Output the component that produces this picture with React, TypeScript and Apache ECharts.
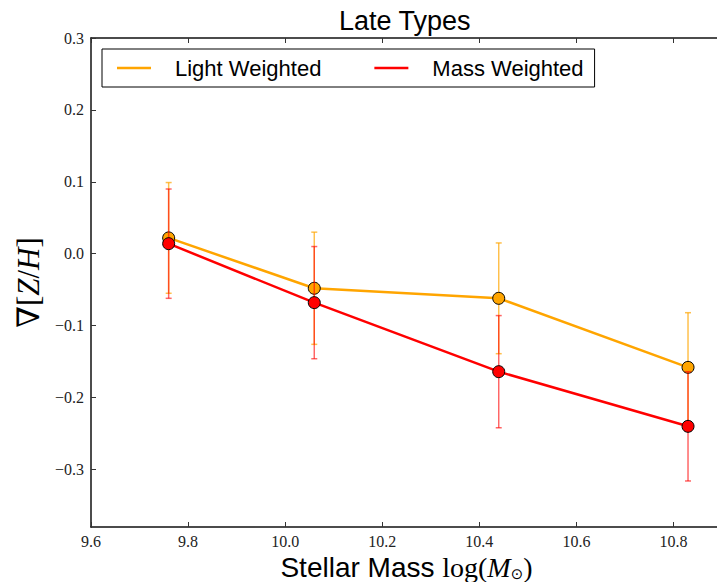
import React, { useEffect, useRef } from 'react';
import * as echarts from 'echarts';

// Stellar mass bins (log M_sun) and metallicity gradients per weighting scheme
const stellarMass = [9.76, 10.06, 10.44, 10.83];
const lightWeighted = [0.022, -0.048, -0.062, -0.158];
const lightErr = [0.077, 0.078, 0.077, 0.076];
const massWeighted = [0.014, -0.068, -0.164, -0.24];
const massErr = [0.076, 0.078, 0.078, 0.076];

const xTicks = [9.6, 9.8, 10.0, 10.2, 10.4, 10.6, 10.8];
const yTicks = [-0.3, -0.2, -0.1, 0.0, 0.1, 0.2, 0.3];

const ORANGE = '#FFA500';
const RED = '#FF0000';
const SERIF = '"Liberation Serif", "DejaVu Serif", serif';
const SANS = '"Liberation Sans", Arial, sans-serif';

const fmt = (v: number) => (v < -1e-9 ? '\u2212' + Math.abs(v).toFixed(1) : Math.abs(v).toFixed(1));

function errorBars(name: string, ys: number[], errs: number[], color: string, opacity: number, z: number) {
  return {
    type: 'custom',
    name,
    z,
    silent: true,
    encode: { x: 0, y: [1, 2] },
    data: stellarMass.map((x, i) => [x, ys[i] - errs[i], ys[i] + errs[i]]),
    renderItem: (_params: any, api: any) => {
      const x = api.value(0);
      const lo = api.coord([x, api.value(1)]);
      const hi = api.coord([x, api.value(2)]);
      const cap = 3;
      const style = { stroke: color, lineWidth: 1.5, opacity };
      return {
        type: 'group',
        children: [
          { type: 'line', shape: { x1: lo[0], y1: lo[1], x2: hi[0], y2: hi[1] }, style },
          { type: 'line', shape: { x1: lo[0] - cap, y1: lo[1], x2: lo[0] + cap, y2: lo[1] }, style },
          { type: 'line', shape: { x1: hi[0] - cap, y1: hi[1], x2: hi[0] + cap, y2: hi[1] }, style },
        ],
      };
    },
  };
}

function lineSeries(name: string, ys: number[], color: string, z: number) {
  return {
    type: 'line',
    name,
    z,
    data: stellarMass.map((x, i) => [x, ys[i]]),
    symbol: 'circle',
    symbolSize: 12,
    lineStyle: { color, width: 2.5 },
    itemStyle: { color, borderColor: '#000', borderWidth: 1 },
  };
}

const axisLineStyle = { color: '#111', width: 1.5 };
const tickStyle = { color: '#333', width: 1 };

export default function App() {
  const ref = useRef<HTMLDivElement>(null);

  useEffect(() => {
    if (!ref.current) return;
    const chart = echarts.init(ref.current, null, { renderer: 'svg' });
    chart.setOption({
      animation: false,
      backgroundColor: '#fff',
      title: {
        text: 'Late Types',
        left: 334,
        top: 2,
        textStyle: { fontFamily: SANS, fontSize: 27, fontWeight: 'normal', color: '#000' },
      },
      legend: {
        data: ['Light Weighted', 'Mass Weighted'],
        left: 102,
        top: 49,
        orient: 'horizontal',
        padding: [8, 11, 8, 15],
        itemGap: 53,
        itemWidth: 53,
        itemHeight: 14,
        icon: 'path://M0,0 M53,14 M0,5.8 L34,5.8 L34,8.2 L0,8.2 Z',
        itemStyle: { borderWidth: 0 },
        borderColor: '#000',
        borderWidth: 1,
        borderRadius: 0,
        textStyle: { fontFamily: SANS, fontSize: 22, color: '#000' },
      },
      // plot frame runs slightly past the right edge of the canvas
      grid: {
        left: 91,
        top: 38,
        width: 631,
        height: 489,
        containLabel: false,
        outerBoundsMode: 'none',
      },
      xAxis: [
        {
          type: 'value',
          min: 9.6,
          max: 10.9,
          position: 'bottom',
          splitLine: { show: false },
          axisLine: { show: true, onZero: false, lineStyle: axisLineStyle },
          axisTick: { show: true, inside: true, length: 5, lineStyle: tickStyle, customValues: xTicks },
          axisLabel: {
            customValues: xTicks,
            formatter: fmt,
            margin: 6,
            fontFamily: SERIF,
            fontSize: 16,
            color: '#222',
          },
          name: '{a|Stellar Mass }{b|log(}{c|M}{d|\u2299}{b|)}',
          nameLocation: 'middle',
          nameGap: 20,
          nameTextStyle: {
            rich: {
              a: { fontFamily: SANS, fontSize: 28, color: '#000' },
              b: { fontFamily: SERIF, fontSize: 28, color: '#000' },
              c: { fontFamily: SERIF, fontSize: 28, fontStyle: 'italic', color: '#000' },
              d: {
                fontFamily: '"DejaVu Sans", sans-serif',
                fontSize: 15,
                color: '#000',
                verticalAlign: 'bottom',
                padding: [8, 0, 0, 0],
              },
            },
          },
        },
        {
          type: 'value',
          min: 9.6,
          max: 10.9,
          position: 'top',
          splitLine: { show: false },
          axisLine: { show: true, onZero: false, lineStyle: axisLineStyle },
          axisTick: { show: true, inside: true, length: 5, lineStyle: tickStyle, customValues: xTicks },
          axisLabel: { show: false, customValues: xTicks },
        },
      ],
      yAxis: [
        {
          type: 'value',
          min: -0.38,
          max: 0.3,
          position: 'left',
          splitLine: { show: false },
          axisLine: { show: true, onZero: false, lineStyle: axisLineStyle },
          axisTick: { show: true, inside: true, length: 5, lineStyle: tickStyle, customValues: yTicks },
          axisLabel: {
            customValues: yTicks,
            formatter: fmt,
            margin: 7,
            fontFamily: SERIF,
            fontSize: 16,
            color: '#222',
          },
          name: '{a|\u2207[}{b|Z}{a|/}{b|H}{a|]}',
          nameLocation: 'middle',
          nameRotate: 90,
          nameGap: 46,
          nameTextStyle: {
            rich: {
              a: { fontFamily: SERIF, fontSize: 31, color: '#000' },
              b: { fontFamily: SERIF, fontSize: 31, fontStyle: 'italic', color: '#000' },
            },
          },
        },
        {
          type: 'value',
          min: -0.38,
          max: 0.3,
          position: 'right',
          splitLine: { show: false },
          axisLine: { show: true, onZero: false, lineStyle: axisLineStyle },
          axisTick: { show: true, inside: true, length: 5, lineStyle: tickStyle, customValues: yTicks },
          axisLabel: { show: false, customValues: yTicks },
        },
      ],
      series: [
        errorBars('Light Weighted err', lightWeighted, lightErr, ORANGE, 0.7, 2),
        lineSeries('Light Weighted', lightWeighted, ORANGE, 3),
        errorBars('Mass Weighted err', massWeighted, massErr, RED, 0.6, 4),
        lineSeries('Mass Weighted', massWeighted, RED, 5),
      ],
    });
    return () => chart.dispose();
  }, []);

  return (
    <div
      ref={ref}
      style={{ position: 'absolute', left: 0, top: 0, width: 717, height: 582 }}
    />
  );
}
